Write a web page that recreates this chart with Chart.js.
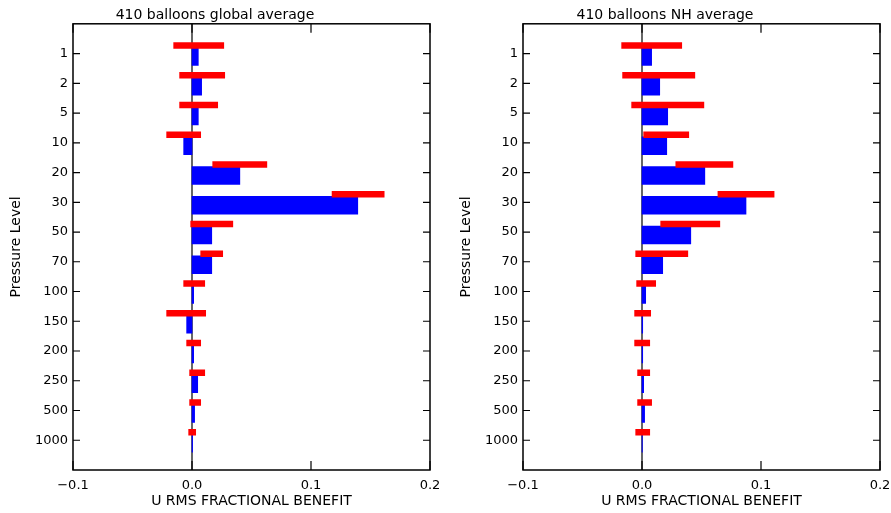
<!DOCTYPE html>
<html>
<head>
<meta charset="utf-8">
<script src="https://cdn.jsdelivr.net/npm/chart.js@4"></script>
<style>
  body { margin: 0; background: #fff; }
  .box { position: absolute; top: 0; }
</style>
</head>
<body>
<div class="box" style="left:0"><canvas id="globalChart" width="445" height="513"></canvas></div>
<div class="box" style="left:450px"><canvas id="nhChart" width="441" height="513"></canvas></div>
<script>
// pressure levels (hPa), top to bottom
const levels = ['1', '2', '5', '10', '20', '30', '50', '70', '100', '150', '200', '250', '500', '1000'];
const xTicks = [-0.1, 0.0, 0.1, 0.2];

// global average: blue bar = mean benefit, red bar = spread
const globalMean = [0.0053, 0.0081, 0.0053, -0.0070, 0.0402, 0.1393, 0.0166, 0.0166, 0.0014, -0.0045, 0.0014, 0.0048, 0.0022, 0.0005];
const globalLow = [-0.0154, -0.0104, -0.0104, -0.0213, 0.0174, 0.1177, -0.0011, 0.0073, -0.0070, -0.0213, -0.0045, -0.0020, -0.0020, -0.0028];
const globalHigh = [0.0267, 0.0275, 0.0216, 0.0073, 0.0629, 0.1615, 0.0343, 0.0258, 0.0107, 0.0115, 0.0073, 0.0107, 0.0073, 0.0031];

// NH average
const nhMean = [0.0081, 0.0149, 0.0216, 0.0208, 0.0528, 0.0874, 0.0410, 0.0174, 0.0031, 0.0006, 0.0006, 0.0014, 0.0022, 0.0003];
const nhLow = [-0.0171, -0.0163, -0.0087, 0.0014, 0.0284, 0.0638, 0.0157, -0.0053, -0.0045, -0.0062, -0.0062, -0.0037, -0.0037, -0.0053];
const nhHigh = [0.0334, 0.0444, 0.0520, 0.0393, 0.0764, 0.1110, 0.0654, 0.0385, 0.0115, 0.0073, 0.0065, 0.0065, 0.0081, 0.0065];

Chart.defaults.font.family = 'DejaVu Sans';
Chart.defaults.font.size = 13;
Chart.defaults.color = '#000';

// frame, zero line and inward tick marks like the original plot
const framePlugin = {
  id: 'frame',
  beforeDatasetsDraw(chart) {
    const { ctx, chartArea: a, scales: { x } } = chart;
    const x0 = x.getPixelForValue(0);
    ctx.save();
    ctx.strokeStyle = '#000';
    ctx.lineWidth = 1.2;
    ctx.beginPath();
    ctx.moveTo(x0, a.top);
    ctx.lineTo(x0, a.bottom);
    ctx.stroke();
    ctx.restore();
  },
  afterDatasetsDraw(chart) {
    const { ctx, chartArea: a, scales: { x, y } } = chart;
    ctx.save();
    ctx.strokeStyle = '#000';
    ctx.lineWidth = 1.5;
    ctx.strokeRect(a.left, a.top, a.right - a.left, a.bottom - a.top);
    ctx.lineWidth = 1.2;
    ctx.beginPath();
    y.ticks.forEach(t => {
      const py = y.getPixelForValue(t.value);
      ctx.moveTo(a.left, py); ctx.lineTo(a.left + 7, py);
      ctx.moveTo(a.right, py); ctx.lineTo(a.right - 7, py);
    });
    x.ticks.forEach(t => {
      const px = x.getPixelForValue(t.value);
      ctx.moveTo(px, a.top); ctx.lineTo(px, a.top + 9);
      ctx.moveTo(px, a.bottom); ctx.lineTo(px, a.bottom - 9);
    });
    ctx.stroke();
    ctx.restore();
  }
};

function makeChart(id, title, mean, low, high, padRight) {
  const ctx = document.getElementById(id).getContext('2d');
  return new Chart(ctx, {
    type: 'bar',
    data: {
      datasets: [{
        data: levels.map((l, i) => ({ x: [low[i], high[i]], y: i + 1 })),
        backgroundColor: '#ff0000',
        barThickness: 6,
        grouped: false,
        yAxisID: 'yRed'
      }, {
        data: levels.map((l, i) => ({ x: mean[i], y: i + 1 })),
        backgroundColor: '#0000ff',
        barThickness: 18,
        grouped: false,
        yAxisID: 'yBlue'
      }]
    },
    options: {
      indexAxis: 'y',
      responsive: false,
      animation: false,
      layout: { padding: { left: 0, right: padRight, top: 0, bottom: 0 } },
      plugins: {
        legend: { display: false },
        tooltip: { enabled: false },
        title: {
          display: true,
          text: title,
          font: { size: 14, weight: 'normal' },
          padding: { top: 7, bottom: 0 }
        }
      },
      scales: {
        x: {
          type: 'linear',
          min: -0.1,
          max: 0.2,
          afterBuildTicks: s => { s.ticks = xTicks.map(v => ({ value: v })); },
          afterFit: s => { s.height = 43; s.paddingLeft = 0; s.paddingRight = 0; },
          grid: { display: false, drawTicks: false },
          border: { display: false },
          ticks: {
            padding: 8,
            maxRotation: 0,
            callback: v => v.toFixed(1).replace('-', '\u2212')
          },
          title: {
            display: true,
            text: 'U RMS FRACTIONAL BENEFIT',
            font: { size: 14 },
            padding: { top: 0, bottom: 3 }
          }
        },
        y: {
          type: 'linear',
          reverse: true,
          offset: false,
          min: 0,
          max: 15,
          afterBuildTicks: s => { s.ticks = levels.map((l, i) => ({ value: i + 1 })); },
          afterFit: s => { s.width = 73; s.paddingTop = 0; s.paddingBottom = 0; },
          grid: { display: false, drawTicks: false, offset: false },
          border: { display: false },
          ticks: {
            padding: 5,
            callback: v => levels[Math.round(v) - 1]
          },
          title: {
            display: true,
            text: 'Pressure Level',
            font: { size: 14 },
            padding: { top: 8, bottom: 0 }
          }
        },
        // hidden index axes that shift each bar set off the level tick
        yBlue: { type: 'linear', display: false, offset: false, reverse: true, min: -0.1, max: 14.9 },
        yRed: { type: 'linear', display: false, offset: false, reverse: true, min: 0.27, max: 15.27 }
      }
    },
    plugins: [framePlugin]
  });
}

makeChart('globalChart', '410 balloons global average', globalMean, globalLow, globalHigh, 15);
makeChart('nhChart', '410 balloons NH average', nhMean, nhLow, nhHigh, 11);
</script>
</body>
</html>
